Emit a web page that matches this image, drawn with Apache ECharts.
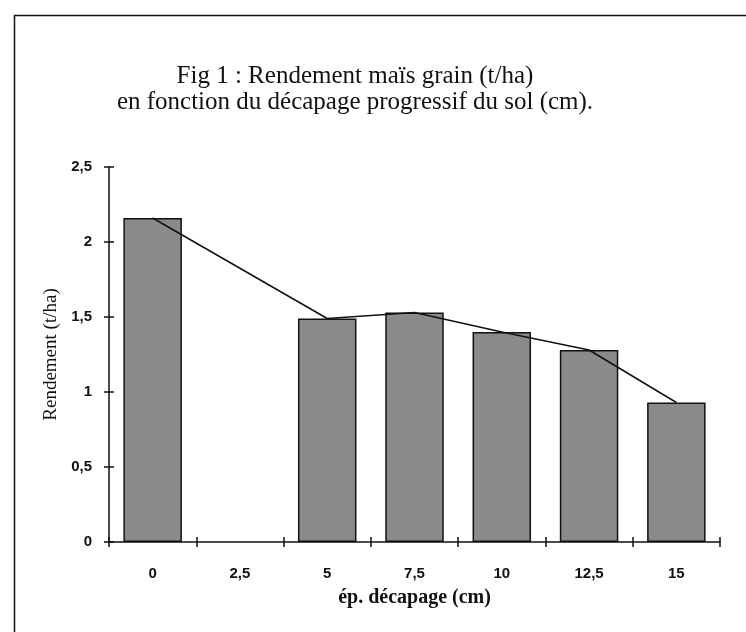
<!DOCTYPE html>
<html>
<head>
<meta charset="utf-8">
<script src="https://cdn.jsdelivr.net/npm/echarts@6/dist/echarts.min.js"></script>
<style>html,body{margin:0;padding:0;background:#fff}#c{width:746px;height:632px}</style>
</head>
<body>
<div id="c"></div>
<script>
const categories = ['0', '2,5', '5', '7,5', '10', '12,5', '15'];
const barValues = [2.16, null, 1.49, 1.53, 1.40, 1.28, 0.93];
const lineValues = [2.16, null, 1.49, 1.53, 1.40, 1.28, 0.93];

const chart = echarts.init(document.getElementById('c'));
const fmt = v => String(v).replace('.', ',');
chart.setOption({
  animation: false,
  backgroundColor: '#fff',
  title: {
    text: 'Fig 1 : Rendement maïs grain (t/ha)\nen fonction du décapage progressif du sol (cm).',
    left: 350, top: 58, textAlign: 'center',
    textStyle: { fontFamily: 'Liberation Serif', fontSize: 25, fontWeight: 'normal', color: '#111', lineHeight: 26 }
  },
  graphic: [{
    type: 'rect', left: 12, top: 13, silent: true,
    shape: { width: 760, height: 650 },
    style: { fill: 'none', stroke: '#111', lineWidth: 1.5 }
  }],
  grid: { left: 109, right: 26, top: 167, bottom: 90 },
  xAxis: [{
    type: 'category', data: categories,
    name: 'ép. décapage (cm)', nameLocation: 'middle', nameGap: 46,
    nameTextStyle: { fontFamily: 'Liberation Serif', fontSize: 20, fontWeight: 'bold', color: '#111' },
    axisLine: { lineStyle: { color: '#111', width: 1.5 } },
    axisTick: { show: true, length: 5, lineStyle: { color: '#111', width: 1.5 } },
    axisLabel: { margin: 24, fontFamily: 'Liberation Sans', fontWeight: 'bold', fontSize: 15, color: '#111' },
    splitLine: { show: false }
  }, {
    type: 'category', data: categories, position: 'bottom',
    axisLine: { show: false },
    axisTick: { show: true, inside: true, length: 5, lineStyle: { color: '#111', width: 1.5 } },
    axisLabel: { show: false }, splitLine: { show: false }
  }],
  yAxis: [{
    type: 'value', min: 0, max: 2.5, interval: 0.5,
    name: 'Rendement (t/ha)', nameLocation: 'middle', nameGap: 34, nameRotate: 90,
    nameTextStyle: { fontFamily: 'Liberation Serif', fontSize: 19, color: '#111' },
    axisLine: { show: true, lineStyle: { color: '#111', width: 1.5 } },
    axisTick: { show: true, length: 5, lineStyle: { color: '#111', width: 1.5 } },
    axisLabel: { margin: 17, fontFamily: 'Liberation Sans', fontWeight: 'bold', fontSize: 15, color: '#111', formatter: fmt },
    splitLine: { show: false }
  }, {
    type: 'value', min: 0, max: 2.5, interval: 0.5, position: 'left',
    axisLine: { show: false },
    axisTick: { show: true, inside: true, length: 5, lineStyle: { color: '#111', width: 1.5 } },
    axisLabel: { show: false }, splitLine: { show: false }
  }],
  series: [{
    type: 'bar', data: barValues, barWidth: '67%',
    itemStyle: { color: '#8a8a8a', borderColor: '#111', borderWidth: 1.5 }
  }, {
    type: 'line', data: lineValues, connectNulls: true, symbol: 'none',
    lineStyle: { color: '#111', width: 1.5 }
  }]
});
</script>
</body>
</html>
